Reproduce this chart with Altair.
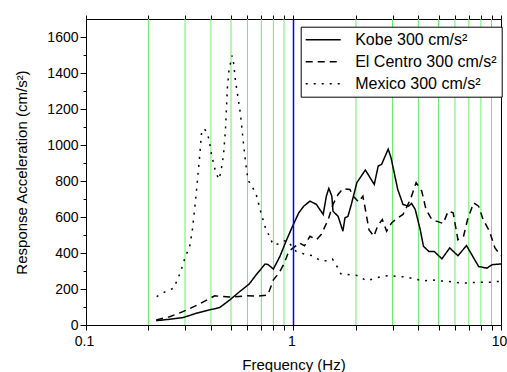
import altair as alt
import pandas as pd

# ---------------- data ----------------
series_names = ["Kobe 300 cm/s²", "El Centro 300 cm/s²", "Mexico 300 cm/s²"]

kobe_f = [0.218, 0.253, 0.293, 0.340, 0.394, 0.441, 0.494, 0.551, 0.611, 0.661,
          0.73, 0.755, 0.80, 0.86, 0.92, 0.99, 1.06, 1.12, 1.20, 1.29, 1.39,
          1.44, 1.48, 1.53, 1.55, 1.64, 1.73, 1.77, 1.83, 1.90, 2.02, 2.22,
          2.45, 2.56, 2.66, 2.86, 2.95, 3.08, 3.18, 3.37, 3.58, 3.71, 3.86,
          4.08, 4.23, 4.49, 4.76, 5.19, 5.66, 6.2, 6.82, 7.8, 8.55, 9.06, 10.0]
kobe_v = [24, 32, 41, 65, 84, 97, 140, 186, 227, 279,
          339, 335, 311, 381, 465, 549, 623, 660, 688, 670, 614,
          716, 759, 716, 632, 604, 521, 595, 604, 670, 791, 861,
          781, 883, 893, 977, 930, 828, 753, 670, 660, 675, 642,
          530, 437, 409, 409, 368, 428, 385, 441, 325, 316, 335, 339]

elc_f = [0.218, 0.253, 0.293, 0.346, 0.417, 0.494, 0.594, 0.675, 0.752, 0.80,
         0.85, 0.90, 0.95, 1.0, 1.07, 1.13, 1.20, 1.29, 1.36, 1.47, 1.55,
         1.64, 1.73, 1.87, 1.94, 2.06, 2.16, 2.22, 2.31, 2.44, 2.54, 2.68,
         2.81, 2.97, 3.18, 3.37, 3.66, 3.90, 4.15, 4.35, 4.64, 4.80, 5.27,
         5.56, 5.88, 6.2, 6.6, 6.9, 7.38, 7.8, 8.2, 8.8, 9.35, 10.0]
elc_v = [28, 46, 74, 112, 162, 155, 162, 160, 167, 251,
         288, 340, 410, 430, 456, 440, 493, 474, 502, 586, 670,
         725, 757, 753, 716, 683, 716, 642, 530, 493, 549, 586,
         521, 567, 595, 614, 698, 791, 744, 642, 586, 580, 564,
         632, 623, 474, 493, 586, 679, 660, 586, 521, 428, 385]

mex_f = [0.219, 0.242, 0.265, 0.274, 0.284, 0.293, 0.302, 0.315, 0.325, 0.335,
         0.344, 0.353, 0.361, 0.368, 0.376, 0.391, 0.403, 0.421, 0.437, 0.447,
         0.460, 0.470, 0.480, 0.488, 0.497, 0.506, 0.515, 0.525, 0.540, 0.555,
         0.571, 0.589, 0.604, 0.636, 0.661, 0.694, 0.732, 0.763, 0.798, 0.84,
         0.887, 0.93, 1.03, 1.15, 1.24, 1.34, 1.44, 1.54, 1.61, 1.69, 1.87,
         2.02, 2.25, 2.44, 2.66, 2.91, 3.18, 3.52, 3.86, 4.23, 4.64, 5.09,
         5.58, 6.13, 6.72, 7.38, 8.09, 8.88, 9.73, 10.0]
mex_v = [158, 186, 205, 245, 288, 335, 385, 428, 521, 660,
         796, 939, 1077, 1090, 1083, 1036, 943, 852, 809, 852,
         945, 1084, 1315, 1408, 1455, 1497, 1451, 1358, 1265, 1172,
         1032, 893, 805, 763, 725, 632, 540, 497, 446, 450,
         465, 470, 409, 391, 385, 359, 357, 367, 331, 285, 279,
         275, 246, 257, 270, 275, 270, 266, 255, 245, 251, 245,
         242, 236, 233, 236, 238, 238, 242, 242]

major_ticks = [0.1, 1, 10]
major_labels = ["0.1", "1", "10"]
minor_ticks = [0.2, 0.3, 0.4, 0.5, 0.6, 0.7, 0.8, 0.9, 2, 3, 4, 5, 6, 7, 8, 9]
blue_line = [1]
y_ticks = list(range(0, 1700, 100))

# ---------------- tables ----------------
rows = []
for name, fs, vs in zip(series_names, [kobe_f, elc_f, mex_f], [kobe_v, elc_v, mex_v]):
    for f, v in zip(fs, vs):
        rows.append({"series": name, "freq": f, "acc": v})
df = pd.DataFrame(rows)
grid_df = pd.DataFrame({"freq": minor_ticks})
blue_df = pd.DataFrame({"freq": blue_line})

all_ticks = sorted(major_ticks + minor_ticks)
FONT = "Liberation Sans"

xscale = alt.Scale(type="log", domain=[0.1, 10], nice=False)
label_x = " : ".join(f"datum.value == {v} ? '{l}'" for v, l in zip(major_ticks, major_labels)) + " : ''"
tick_y = {"condition": {"test": "datum.value % 200 == 0", "value": 6}, "value": 3}

grid = alt.Chart(grid_df).mark_rule(strokeWidth=1).encode(
    x=alt.X("freq:Q", scale=xscale,
            axis=alt.Axis(orient="top", values=all_ticks, labels=False, title=None,
                          grid=False, tickSize=4, domain=False)),
    color=alt.value("#6aee6a"),
)

lines = alt.Chart(df).mark_line(strokeWidth=1.5, strokeCap="butt").encode(
    x=alt.X("freq:Q", scale=xscale,
            axis=alt.Axis(orient="bottom", values=all_ticks, labelExpr=label_x,
                          title="Frequency (Hz)", grid=False, tickSize=5,
                          labelFlush=False, labelPadding=4, labelOffset=-2,
                          titlePadding=9)),
    y=alt.Y("acc:Q", scale=alt.Scale(domain=[0, 1700], nice=False),
            axis=alt.Axis(values=y_ticks,
                          labelExpr="datum.value % 200 == 0 ? format(datum.value, 'd') : ''",
                          title="Response Acceleration (cm/s²)", grid=False, tickSize=tick_y,
                          labelFlush=False, labelPadding=2, titlePadding=17)),
    color=alt.value("black"),
    strokeDash=alt.StrokeDash(
        "series:N",
        scale=alt.Scale(domain=series_names, range=[[1, 0], [7, 5], [2, 6]]),
        legend=alt.Legend(orient="none", legendX=214.7, legendY=7.7, title=None,
                          strokeColor="black", fillColor="white", padding=5,
                          symbolType="M-3.5,0H3.5", symbolSize=100,
                          symbolStrokeWidth=1.5, symbolStrokeColor="black",
                          symbolOffset=9.5, labelOffset=24, rowPadding=6,
                          labelFont=FONT, labelFontSize=16, labelColor="black",
                          cornerRadius=0),
    ),
)

blue = alt.Chart(blue_df).mark_rule(strokeWidth=1.5).encode(
    x=alt.X("freq:Q", scale=xscale, axis=None),
    color=alt.value("#0000ff"),
)

chart = alt.layer(grid, lines, blue).resolve_axis(x="independent").properties(
    width=415, height=306, background="white",
    padding={"left": 86, "top": 19, "right": 6, "bottom": 47},
    autosize=alt.AutoSizeParams(type="none"),
).configure_axis(
    labelFont=FONT, labelFontSize=14, labelColor="black",
    titleFont=FONT, titleFontSize=15, titleFontWeight="normal", titleColor="black",
    domainColor="black", tickColor="black", domainWidth=1, tickWidth=1,
).configure_view(stroke="black", strokeWidth=1)

chart.save("out.html", embed_options={"renderer": "svg", "actions": False})
